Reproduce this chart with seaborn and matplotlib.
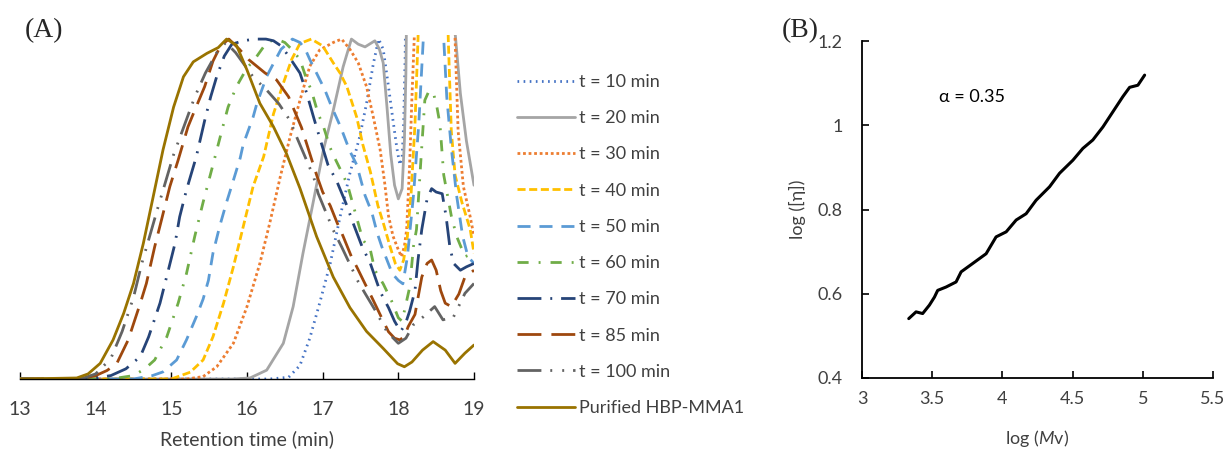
import matplotlib
matplotlib.use('Agg')
import matplotlib.pyplot as plt
import seaborn as sns

# (A) GPC traces, normalised detector signal vs retention time (min)
t10_x = [13.0, 16.3, 16.55, 16.70, 16.83, 16.96, 17.10, 17.23, 17.36, 17.49, 17.58, 17.67, 17.74,
         17.80, 17.87, 17.93, 17.98, 18.02, 18.05, 18.07, 18.09, 18.11, 19.0]
t10_y = [0, 0, 0.005, 0.04, 0.12, 0.223, 0.34, 0.477, 0.605, 0.713, 0.811, 0.928, 1.0,
         0.97, 0.86, 0.76, 0.68, 0.63, 0.65, 0.75, 0.95, 1.3, 1.3]

t20_x = [13.0, 15.8, 16.04, 16.26, 16.48, 16.61, 16.74, 16.88, 17.01, 17.14, 17.27, 17.38, 17.47,
         17.56, 17.69, 17.75, 17.80, 17.85, 17.90, 17.95, 18.0, 18.05, 18.08, 18.10, 18.12, 18.70,
         18.75, 18.82, 18.90, 19.0]
t20_y = [0, 0, 0.003, 0.026, 0.105, 0.213, 0.37, 0.526, 0.674, 0.79, 0.918, 1.0, 0.985,
         0.977, 0.995, 0.97, 0.93, 0.8, 0.66, 0.57, 0.53, 0.56, 0.7, 0.9, 1.3, 1.3,
         1.02, 0.84, 0.7, 0.57]

t30_x = [13.0, 15.2, 15.42, 15.60, 15.82, 16.0, 16.17, 16.30, 16.44, 16.57, 16.70, 16.83, 16.96,
         17.14, 17.25, 17.36, 17.47, 17.58, 17.67, 17.76, 17.82, 17.87, 17.93, 18.0, 18.04, 18.08,
         18.11, 18.15, 18.18, 18.21, 18.25, 18.71, 18.75, 18.79, 18.86, 18.95, 19.0]
t30_y = [0, 0, 0.007, 0.036, 0.105, 0.213, 0.34, 0.458, 0.595, 0.713, 0.82, 0.92, 0.968,
         0.99, 1.0, 0.97, 0.93, 0.86, 0.77, 0.674, 0.576, 0.48, 0.42, 0.38, 0.36, 0.39,
         0.44, 0.634, 0.83, 1.0, 1.3, 1.3, 1.0, 0.73, 0.566, 0.477, 0.42]

t40_x = [13.0, 15.0, 15.25, 15.42, 15.55, 15.69, 15.82, 15.95, 16.08, 16.22, 16.35, 16.48, 16.59,
         16.70, 16.85, 17.0, 17.14, 17.23, 17.32, 17.45, 17.53, 17.63, 17.73, 17.80, 17.89, 17.96,
         18.02, 18.07, 18.12, 18.17, 18.22, 18.26, 18.29, 18.63, 18.66, 18.70, 18.75, 18.84, 18.95, 19.0]
t40_y = [0, 0, 0.02, 0.056, 0.124, 0.223, 0.33, 0.448, 0.566, 0.654, 0.78, 0.87, 0.94,
         0.987, 1.0, 0.98, 0.93, 0.9, 0.86, 0.77, 0.69, 0.61, 0.51, 0.46, 0.39, 0.34,
         0.32, 0.35, 0.42, 0.55, 0.75, 1.0, 1.3, 1.3, 1.0, 0.73, 0.6, 0.52, 0.44, 0.37]

t50_x = [13.0, 14.5, 14.75, 14.89, 15.07, 15.20, 15.33, 15.42, 15.49, 15.55, 15.64, 15.73, 15.80,
         15.91, 15.95, 16.08, 16.13, 16.26, 16.33, 16.45, 16.6, 16.70, 16.77, 16.83, 17.03, 17.12,
         17.24, 17.36, 17.45, 17.56, 17.65, 17.72, 17.78, 17.85, 17.92, 18.0, 18.06, 18.12, 18.2,
         18.27, 18.33, 18.36, 18.57, 18.60, 18.64, 18.70, 18.77, 18.85, 18.92, 19.0]
t50_y = [0, 0, 0.01, 0.021, 0.056, 0.115, 0.183, 0.235, 0.29, 0.37, 0.45, 0.52, 0.57,
         0.65, 0.69, 0.77, 0.81, 0.89, 0.92, 0.97, 1.0, 0.99, 0.97, 0.94, 0.85, 0.80,
         0.74, 0.67, 0.63, 0.54, 0.49, 0.43, 0.39, 0.35, 0.31, 0.29, 0.28, 0.36, 0.54,
         0.75, 1.0, 1.3, 1.3, 1.0, 0.83, 0.68, 0.54, 0.42, 0.36, 0.34]

t60_x = [13.0, 14.2, 14.5, 14.65, 14.78, 14.94, 15.09, 15.20, 15.31, 15.42, 15.55, 15.69, 15.75,
         15.86, 16.0, 16.1, 16.26, 16.39, 16.50, 16.59, 16.70, 16.79, 16.85, 16.94, 17.0, 17.10,
         17.16, 17.27, 17.33, 17.43, 17.53, 17.63, 17.69, 17.80, 17.91, 18.0, 18.05, 18.11, 18.15,
         18.20, 18.24, 18.30, 18.35, 18.40, 18.46, 18.51, 18.55, 18.60, 18.70, 18.77, 18.88, 19.0]
t60_y = [0, 0, 0.01, 0.03, 0.056, 0.124, 0.223, 0.31, 0.42, 0.52, 0.63, 0.75, 0.80,
         0.86, 0.915, 0.94, 0.99, 1.0, 0.99, 0.97, 0.94, 0.88, 0.85, 0.78, 0.75, 0.68,
         0.65, 0.6, 0.57, 0.49, 0.41, 0.38, 0.32, 0.28, 0.23, 0.18, 0.17, 0.23, 0.27,
         0.39, 0.44, 0.65, 0.82, 0.845, 0.845, 0.8, 0.75, 0.6, 0.48, 0.42, 0.36, 0.37]

t70_x = [13.0, 13.9, 14.2, 14.4, 14.59, 14.70, 14.85, 14.96, 15.05, 15.11, 15.20, 15.33, 15.44,
         15.52, 15.60, 15.70, 15.80, 15.95, 16.1, 16.25, 16.35, 16.45, 16.55, 16.70, 16.79, 16.88,
         16.96, 17.07, 17.19, 17.32, 17.40, 17.52, 17.63, 17.76, 17.87, 17.95, 18.03, 18.09, 18.15,
         18.22, 18.26, 18.31, 18.38, 18.44, 18.5, 18.58, 18.63, 18.68, 18.73, 18.82, 18.9, 19.0]
t70_y = [0, 0, 0.01, 0.03, 0.066, 0.124, 0.223, 0.32, 0.4, 0.477, 0.556, 0.654, 0.76,
         0.83, 0.89, 0.95, 0.985, 0.995, 1.0, 1.0, 0.995, 0.98, 0.95, 0.9, 0.84, 0.77,
         0.71, 0.63, 0.58, 0.51, 0.46, 0.39, 0.34, 0.257, 0.21, 0.17, 0.14, 0.16, 0.2,
         0.26, 0.35, 0.44, 0.53, 0.56, 0.55, 0.545, 0.48, 0.39, 0.34, 0.32, 0.33, 0.34]

t85_x = [13.0, 13.8, 14.0, 14.15, 14.28, 14.43, 14.59, 14.67, 14.78, 14.87, 14.98, 15.09, 15.22,
         15.31, 15.44, 15.55, 15.65, 15.76, 15.9, 16.02, 16.24, 16.39, 16.55, 16.72, 16.92, 17.0,
         17.1, 17.19, 17.27, 17.38, 17.45, 17.56, 17.65, 17.78, 17.87, 17.95, 18.02, 18.08, 18.13,
         18.22, 18.31, 18.38, 18.44, 18.5, 18.56, 18.62, 18.7, 18.8, 18.88, 19.0]
t85_y = [0, 0, 0.01, 0.025, 0.046, 0.115, 0.223, 0.281, 0.389, 0.468, 0.566, 0.644, 0.742,
         0.791, 0.86, 0.935, 0.98, 1.0, 0.97, 0.94, 0.90, 0.88, 0.83, 0.74, 0.6, 0.55,
         0.51, 0.46, 0.42, 0.36, 0.33, 0.28, 0.24, 0.18, 0.139, 0.12, 0.115, 0.125, 0.154,
         0.19, 0.3, 0.34, 0.35, 0.32, 0.26, 0.223, 0.213, 0.25, 0.3, 0.32]

t100_x = [13.0, 13.8, 14.0, 14.2, 14.35, 14.5, 14.61, 14.83, 15.03, 15.31, 15.45, 15.6, 15.72,
          15.85, 16.08, 16.26, 16.42, 16.57, 16.66, 16.88, 16.94, 17.14, 17.25, 17.47, 17.56, 17.7,
          17.85, 18.0, 18.1, 18.2, 18.33, 18.48, 18.59, 18.73, 18.88, 19.0]
t100_y = [0, 0, 0.015, 0.06, 0.14, 0.24, 0.34, 0.51, 0.66, 0.83, 0.9, 0.96, 0.99,
          0.96, 0.889, 0.85, 0.81, 0.76, 0.71, 0.595, 0.546, 0.438, 0.389, 0.286, 0.252, 0.2,
          0.139, 0.105, 0.12, 0.16, 0.183, 0.213, 0.174, 0.183, 0.252, 0.281]

pur_x = [13.0, 13.75, 13.9, 14.06, 14.23, 14.37, 14.50, 14.63, 14.76, 14.89, 15.03, 15.16, 15.29,
         15.47, 15.62, 15.73, 15.86, 16.0, 16.17, 16.35, 16.52, 16.70, 16.92, 17.14, 17.36, 17.58,
         17.80, 17.99, 18.08, 18.18, 18.32, 18.46, 18.62, 18.75, 18.88, 19.0]
pur_y = [0, 0.003, 0.015, 0.046, 0.115, 0.193, 0.281, 0.399, 0.536, 0.674, 0.80, 0.889, 0.933,
         0.958, 0.975, 1.0, 0.982, 0.909, 0.811, 0.742, 0.664, 0.561, 0.419, 0.30, 0.21, 0.14,
         0.09, 0.045, 0.036, 0.05, 0.085, 0.11, 0.085, 0.046, 0.076, 0.10]

labels = ['t = 10 min', 't = 20 min', 't = 30 min', 't = 40 min', 't = 50 min',
          't = 60 min', 't = 70 min', 't = 85 min', 't = 100 min', 'Purified HBP-MMA1']

# (B) Mark-Houwink plot
logmv = [3.333, 3.385, 3.432, 3.48, 3.516, 3.539, 3.599, 3.67, 3.706, 3.789, 3.884, 3.955, 4.027,
         4.098, 4.169, 4.24, 4.336, 4.407, 4.502, 4.573, 4.644, 4.716, 4.787, 4.858, 4.906, 4.965, 5.013]
logeta = [0.541, 0.557, 0.553, 0.573, 0.592, 0.608, 0.616, 0.628, 0.652, 0.672, 0.695, 0.735, 0.747,
          0.775, 0.790, 0.822, 0.854, 0.886, 0.917, 0.945, 0.965, 0.996, 1.032, 1.068, 1.090, 1.095, 1.119]

sns.set_style('white')
plt.rcParams['font.family'] = ['Lato', 'DejaVu Sans']
plt.rcParams['mathtext.fontset'] = 'custom'
plt.rcParams['mathtext.rm'] = 'Lato'
plt.rcParams['mathtext.it'] = 'Lato:italic'

W, H = 1227, 449
fig = plt.figure(figsize=(W / 100, H / 100), dpi=100)
ax1 = fig.add_axes([20 / W, 1 - 379 / H, 454 / W, 344 / H])
ax2 = fig.add_axes([862 / W, 1 - 378 / H, 351 / W, 337 / H])

colors = ['#4472C4', '#A5A5A5', '#ED7D31', '#FFC000', '#5B9BD5',
          '#70AD47', '#264478', '#9E480E', '#636363', '#997300']
styles = [(0, (0.6, 1.6)), '-', (0, (1, 1)), (0, (2.9, 1.3)), (0, (4.7, 3.2)),
          (0, (4, 3.6, 0.7, 3.6)), (0, (8.6, 3.2, 0.7, 3.2)), (0, (8.6, 3.6)),
          (0, (8.6, 3.2, 0.7, 3.6, 0.7, 3.2)), '-']
xs = [t10_x, t20_x, t30_x, t40_x, t50_x, t60_x, t70_x, t85_x, t100_x, pur_x]
ys = [t10_y, t20_y, t30_y, t40_y, t50_y, t60_y, t70_y, t85_y, t100_y, pur_y]

for x, y, c, ls, lab in zip(xs, ys, colors, styles, labels):
    sns.lineplot(x=x, y=y, color=c, linestyle=ls, lw=2.0, label=lab,
                 estimator=None, sort=False, ax=ax1)

ax1.set_xlim(13, 19)
ax1.set_ylim(0, 1.012)
ax1.set_xticks(range(13, 20))
ax1.set_yticks([])
for s in ['left', 'right', 'top']:
    ax1.spines[s].set_visible(False)
ax1.spines['bottom'].set_color('black')
ax1.spines['bottom'].set_linewidth(1.0)
ax1.tick_params(axis='x', direction='in', length=5, width=1, color='black',
                pad=16, labelsize=14, labelcolor='#404040', bottom=True)
ax1.set_xlabel('Retention time (min)', fontsize=14, color='#404040')
ax1.xaxis.set_label_coords(0.5, -0.148)

ax1.legend(loc='upper left', bbox_to_anchor=(517 / W, 1 - 74 / H),
           bbox_transform=fig.transFigure, frameon=False, fontsize=13,
           handlelength=3.2, handletextpad=0.22, labelspacing=1.12,
           borderpad=0, borderaxespad=0, labelcolor='#404040')

sns.lineplot(x=logmv, y=logeta, color='black', lw=2.2, estimator=None, sort=False, ax=ax2)
ax2.set_xlim(3, 5.5)
ax2.set_ylim(0.4, 1.2)
ax2.set_xticks([3, 3.5, 4, 4.5, 5, 5.5])
ax2.set_xticklabels(['3', '3.5', '4', '4.5', '5', '5.5'])
ax2.set_yticks([0.4, 0.6, 0.8, 1.0, 1.2])
ax2.set_yticklabels(['0.4', '0.6', '0.8', '1', '1.2'])
for s in ['right', 'top']:
    ax2.spines[s].set_visible(False)
for s in ['left', 'bottom']:
    ax2.spines[s].set_color('black')
    ax2.spines[s].set_linewidth(1.3)
ax2.tick_params(axis='both', direction='in', length=5, width=1.2, color='black',
                labelsize=13, labelcolor='#404040', left=True, bottom=True)
ax2.tick_params(axis='x', pad=9)
ax2.tick_params(axis='y', pad=14)
ax2.set_xlabel(r'log ($\mathit{M}$v)', fontsize=13, color='#404040')
ax2.xaxis.set_label_coords(0.5, -0.148)
ax2.set_ylabel('log ([η])', fontsize=13, color='#404040')
ax2.yaxis.set_label_coords(-0.16, 0.5)
ax2.text(3.55, 1.068, 'α = 0.35', fontsize=13, va='center', color='black')

fig.text(25 / W, 1 - 31 / H, '(A)', family='Liberation Serif', fontsize=20, va='center')
fig.text(782 / W, 1 - 31 / H, '(B)', family='Liberation Serif', fontsize=20, va='center')

fig.savefig('out.png', dpi=100)
